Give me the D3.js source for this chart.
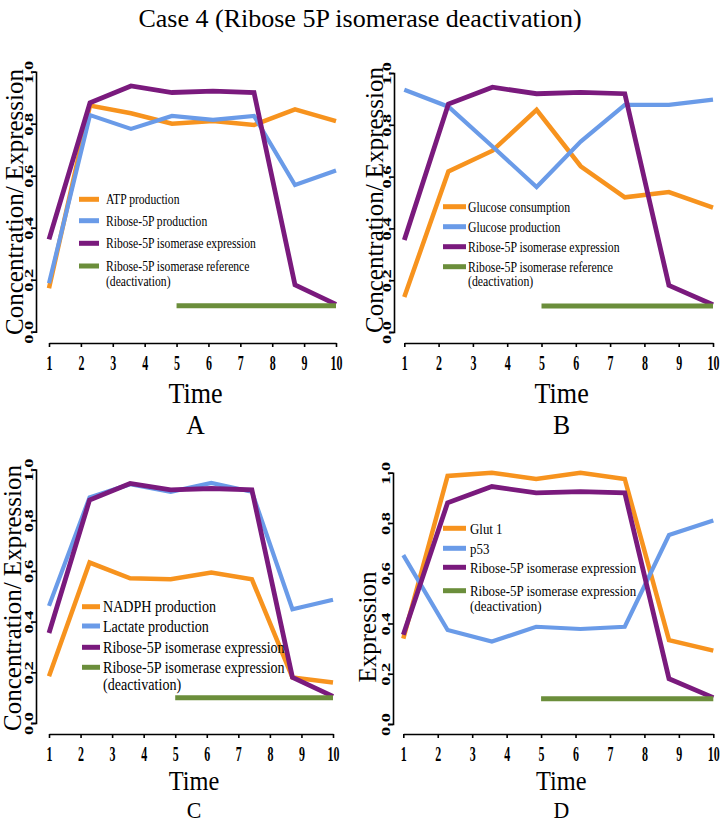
<!DOCTYPE html>
<html>
<head>
<meta charset="utf-8">
<script src="https://cdn.jsdelivr.net/npm/d3@7"></script>
<style>
  html, body { margin: 0; padding: 0; background: #fff; }
  svg { display: block; }
  text { font-family: "Liberation Serif", "Times New Roman", serif; fill: #000; }
</style>
</head>
<body>
<svg id="chart" width="720" height="823"></svg>
<script>
// ---------------- DATA ----------------
const chartTitle = "Case 4 (Ribose 5P isomerase deactivation)";
const timePoints = [1, 2.286, 3.571, 4.857, 6.143, 7.429, 8.714, 10];
const xTicks = [1, 2, 3, 4, 5, 6, 7, 8, 9, 10];
const yTicks = [0, 0.2, 0.4, 0.6, 0.8, 1.0];
const yTickLabels = ["0.0", "0.2", "0.4", "0.6", "0.8", "1.0"];

const isomeraseExpression = [0.355, 0.88, 0.945, 0.92, 0.925, 0.92, 0.18, 0.105];
const referenceTime = [5, 10];
const referenceLevel = [0.1, 0.1];

// Panel A
const atpProduction      = [0.167, 0.87, 0.84, 0.80, 0.81, 0.795, 0.855, 0.81];
const ribose5pProduction = [0.186, 0.833, 0.78, 0.83, 0.815, 0.83, 0.564, 0.62];
// Panel B
const glucoseConsumption = [0.135, 0.62, 0.70, 0.858, 0.64, 0.52, 0.54, 0.48];
const glucoseProduction  = [0.935, 0.87, 0.716, 0.56, 0.735, 0.877, 0.877, 0.897];
// Panel C
const nadphProduction    = [0.184, 0.633, 0.571, 0.567, 0.594, 0.567, 0.18, 0.16];
const lactateProduction  = [0.462, 0.89, 0.942, 0.912, 0.947, 0.912, 0.449, 0.486];
// Panel D
const glut1Expression    = [0.34, 0.987, 1.0, 0.975, 1.0, 0.975, 0.334, 0.292];
const p53Expression      = [0.672, 0.374, 0.328, 0.387, 0.378, 0.387, 0.752, 0.81];

const legendA = ["ATP production", "Ribose-5P production", "Ribose-5P isomerase expression", "Ribose-5P isomerase reference", "(deactivation)"];
const legendB = ["Glucose consumption", "Glucose production", "Ribose-5P isomerase expression", "Ribose-5P isomerase reference", "(deactivation)"];
const legendC = ["NADPH production", "Lactate production", "Ribose-5P isomerase expression", "Ribose-5P isomerase expression", "(deactivation)"];
const legendD = ["Glut 1", "p53", "Ribose-5P isomerase expression", "Ribose-5P isomerase expression", "(deactivation)"];

const panelLetters = ["A", "B", "C", "D"];
const yAxisTitles = ["Concentration/ Expression", "Concentration/ Expression", "Concentration/ Expression", "Expression"];
const xAxisTitle = "Time";

// ---------------- STYLE ----------------
const COL = { orange: "#F7931E", blue: "#6A9BE8", purple: "#7A1A7D", green: "#6B8E3B" };

const svg = d3.select("#chart");

svg.append("text")
  .attr("x", 360).attr("y", 27)
  .attr("text-anchor", "middle")
  .style("font-size", "26px")
  .text(chartTitle);

function drawPanel(cfg) {
  const g = svg.append("g");
  const x = d3.scaleLinear().domain([1, 10]).range([cfg.x0, cfg.x1]);
  const y = d3.scaleLinear().domain([0, 1]).range([cfg.yb, cfg.yt]);

  // Y axis
  const ya = g.append("g")
    .attr("transform", `translate(${cfg.ax},0)`)
    .call(d3.axisLeft(y).tickValues(yTicks).tickSize(3).tickFormat((d, i) => yTickLabels[i]));
  ya.selectAll("path, line").attr("stroke", "#000").attr("stroke-width", 1.6);
  ya.selectAll("text")
    .attr("x", null).attr("dy", null)
    .attr("text-anchor", "middle")
    .attr("transform", "translate(-3,0) rotate(-90) scale(1.15,0.8)")
    .style("font-family", '"Liberation Serif", serif')
    .style("font-weight", "bold")
    .style("font-size", "16px")
    .attr("fill", "#000");

  // X axis
  const xa = g.append("g")
    .attr("transform", `translate(0,${cfg.xy})`)
    .call(d3.axisBottom(x).tickValues(xTicks).tickSize(4).tickSizeOuter(0).tickFormat(d3.format("d")));
  xa.selectAll("path, line").attr("stroke", "#000").attr("stroke-width", 1.6);
  xa.selectAll("text")
    .attr("y", null).attr("dy", null)
    .attr("transform", "translate(0,27) scale(0.57,1)")
    .style("font-family", '"Liberation Serif", serif')
    .style("font-weight", "bold")
    .style("font-size", "21px")
    .attr("fill", "#000");

  // axis titles
  g.append("text")
    .attr("transform", `translate(${cfg.labX},${cfg.labY}) rotate(-90)`)
    .attr("text-anchor", "middle")
    .style("font-size", "25px")
    .text(cfg.yTitle);

  const cx = (cfg.x0 + cfg.x1) / 2 + 3;
  g.append("text")
    .attr("transform", `translate(${cx},${cfg.timeY}) scale(0.87,1)`)
    .attr("text-anchor", "middle")
    .style("font-size", cfg.timeSize + "px")
    .text(xAxisTitle);
  g.append("text")
    .attr("transform", `translate(${cx},${cfg.letterY}) scale(0.95,1)`)
    .attr("text-anchor", "middle")
    .style("font-size", cfg.letterSize + "px")
    .text(cfg.letter);

  // series
  const line = d3.line().x((d, i) => x(timePoints[i])).y(d => y(d));
  cfg.series.forEach(s => {
    g.append("path")
      .attr("d", line(s.values))
      .attr("fill", "none")
      .attr("stroke", s.color)
      .attr("stroke-width", s.width);
  });
  const refLine = d3.line().x(d => x(d[0])).y(d => y(d[1]));
  g.append("path")
    .attr("d", refLine(referenceTime.map((t, i) => [t, referenceLevel[i]])))
    .attr("fill", "none")
    .attr("stroke", COL.green)
    .attr("stroke-width", 5);

  // legend
  const lcolors = [COL.orange, COL.blue, COL.purple, COL.green];
  const L = cfg.legend;
  cfg.legendLabels.forEach((lab, i) => {
    if (i < 4) {
      g.append("line")
        .attr("x1", L.sx0).attr("x2", L.sx1)
        .attr("y1", L.rows[i]).attr("y2", L.rows[i])
        .attr("stroke", lcolors[i]).attr("stroke-width", 5);
    }
    g.append("text")
      .attr("transform", `translate(${L.tx},${L.rows[i]}) scale(${L.sc},1)`)
      .attr("dy", "0.35em")
      .style("font-size", L.fs + "px")
      .text(lab);
  });
}

drawPanel({
  x0: 49, x1: 336, yb: 331.7, yt: 71.7, ax: 36, xy: 343,
  labX: 23, labY: 202, yTitle: yAxisTitles[0],
  timeY: 403, timeSize: 30, letter: panelLetters[0], letterY: 434, letterSize: 27,
  series: [
    { values: atpProduction, color: COL.orange, width: 4.5 },
    { values: ribose5pProduction, color: COL.blue, width: 4.2 },
    { values: isomeraseExpression, color: COL.purple, width: 4.8 }
  ],
  legendLabels: legendA,
  legend: { sx0: 79, sx1: 99, tx: 106, rows: [199.3, 220.7, 243.3, 266, 281], fs: 14, sc: 0.83 }
});

drawPanel({
  x0: 404.3, x1: 713, yb: 332, yt: 73, ax: 394, xy: 343,
  labX: 383, labY: 200, yTitle: yAxisTitles[1],
  timeY: 403, timeSize: 30, letter: panelLetters[1], letterY: 434, letterSize: 27,
  series: [
    { values: glucoseConsumption, color: COL.orange, width: 4.5 },
    { values: glucoseProduction, color: COL.blue, width: 4.2 },
    { values: isomeraseExpression, color: COL.purple, width: 4.8 }
  ],
  legendLabels: legendB,
  legend: { sx0: 443, sx1: 466, tx: 468, rows: [206.7, 226.7, 246.7, 266.7, 281.5], fs: 14, sc: 0.84 }
});

drawPanel({
  x0: 49, x1: 333, yb: 723, yt: 469.5, ax: 36, xy: 734,
  labX: 21, labY: 598, yTitle: yAxisTitles[2],
  timeY: 790, timeSize: 28, letter: panelLetters[2], letterY: 818, letterSize: 23,
  series: [
    { values: nadphProduction, color: COL.orange, width: 4.5 },
    { values: lactateProduction, color: COL.blue, width: 4.2 },
    { values: isomeraseExpression, color: COL.purple, width: 4.8 }
  ],
  legendLabels: legendC,
  legend: { sx0: 82, sx1: 100, tx: 103, rows: [606.7, 626, 647.3, 667.3, 684], fs: 16, sc: 0.88 }
});

drawPanel({
  x0: 403.3, x1: 713.3, yb: 724, yt: 472.7, ax: 393, xy: 734,
  labX: 376, labY: 627, yTitle: yAxisTitles[3],
  timeY: 790, timeSize: 28, letter: panelLetters[3], letterY: 818, letterSize: 23,
  series: [
    { values: glut1Expression, color: COL.orange, width: 4.5 },
    { values: p53Expression, color: COL.blue, width: 4.2 },
    { values: isomeraseExpression, color: COL.purple, width: 4.8 }
  ],
  legendLabels: legendD,
  legend: { sx0: 443, sx1: 466, tx: 470, rows: [528.3, 548.3, 567.3, 590.7, 605.5], fs: 15, sc: 0.86 }
});
</script>
</body>
</html>
